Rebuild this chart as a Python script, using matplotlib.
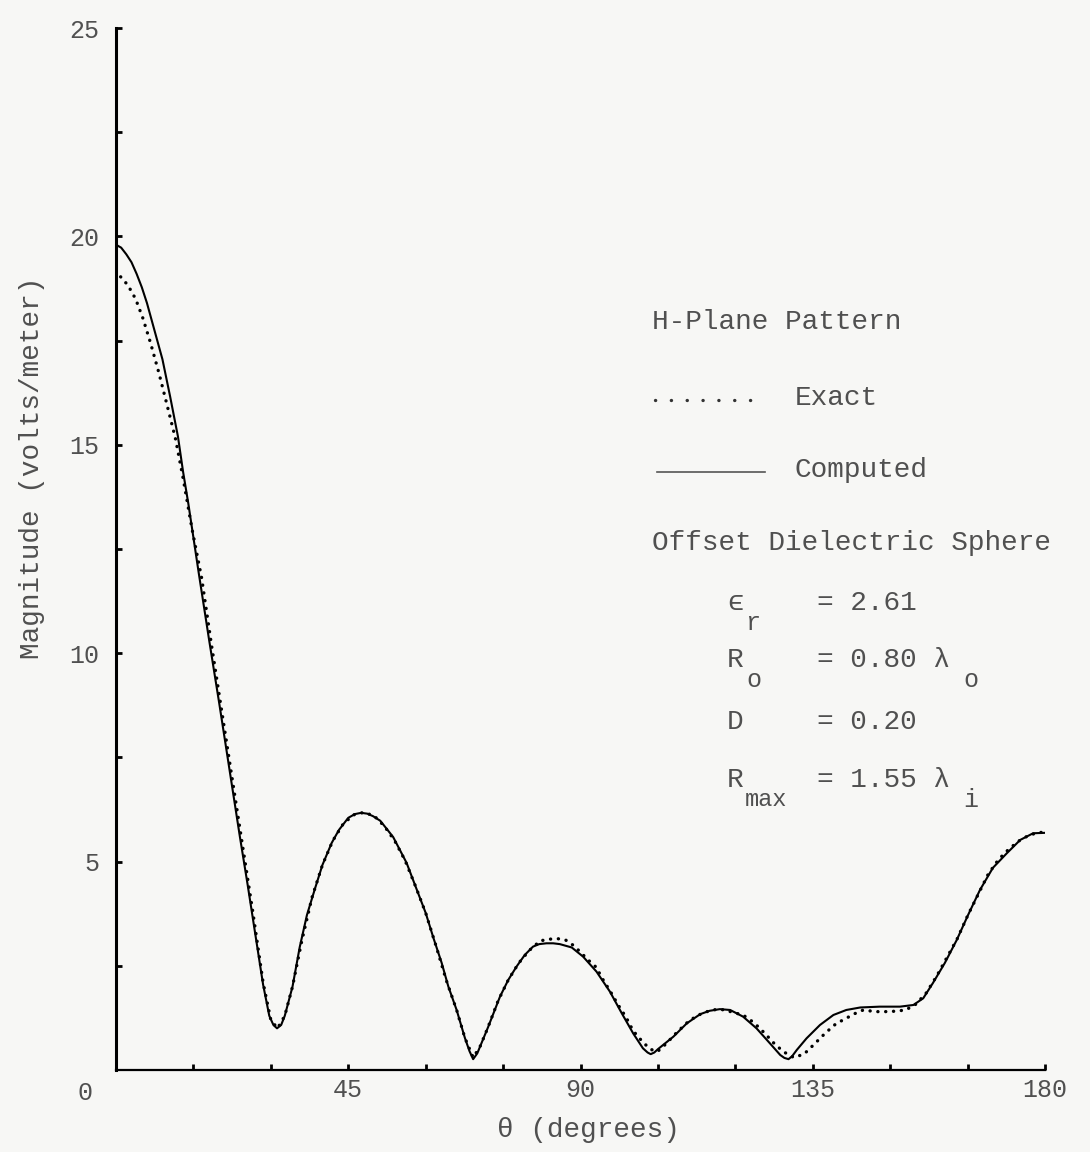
import numpy as np
import matplotlib
matplotlib.use("Agg")
import matplotlib.pyplot as plt

# computed H-plane pattern (solid line)
theta_comp = [0, 1, 2, 3, 4, 5, 6, 7, 8, 9, 10.5, 12, 13, 14, 16, 18, 20, 22, 23, 24,
              25.5, 27, 28.5, 29.7, 30.5, 31.2, 32, 32.7, 34.2, 35.6, 37, 38.6, 40,
              41.8, 43.2, 45, 46.3, 47.5, 48.7, 49.8, 51.2, 53.7, 56.3, 58.3, 60, 61.5,
              63.1, 64.4, 66, 67.6, 68.5, 69.2, 70, 70.5, 72.1, 74.4, 76, 77.6, 79.2,
              80.8, 82, 83.4, 84.7, 86, 88.3, 90.5, 93.1, 95.7, 98, 100.2, 102.1, 103,
              103.6, 104.3, 105, 108, 110.6, 113.2, 115, 117, 119, 121.5, 124.1, 126.7,
              128.7, 129.5, 130.3, 131, 131.9, 133.8, 136.4, 139, 141.5, 144.2, 148,
              151.9, 154.5, 156.4, 158.3, 160.6, 162.9, 165.1, 167.4, 169.9, 172.6,
              175.2, 177.7, 180]
mag_comp = [19.8, 19.73, 19.57, 19.38, 19.1, 18.78, 18.4, 17.95, 17.5, 17.05, 16.15,
            15.2, 14.35, 13.6, 11.95, 10.35, 8.8, 7.2, 6.4, 5.6, 4.45, 3.25, 2.05,
            1.3, 1.08, 1.0, 1.08, 1.3, 2.0, 2.95, 3.72, 4.37, 4.92, 5.45, 5.76, 6.05,
            6.14, 6.17, 6.15, 6.09, 5.98, 5.59, 4.97, 4.32, 3.77, 3.17, 2.57, 2.0,
            1.44, 0.77, 0.45, 0.26, 0.4, 0.55, 1.03, 1.76, 2.16, 2.48, 2.76, 2.96,
            3.02, 3.04, 3.04, 3.02, 2.94, 2.72, 2.36, 1.88, 1.36, 0.88, 0.52, 0.42,
            0.38, 0.42, 0.5, 0.8, 1.12, 1.34, 1.42, 1.46, 1.44, 1.28, 1.0, 0.64, 0.36,
            0.29, 0.26, 0.33, 0.48, 0.76, 1.08, 1.32, 1.44, 1.5, 1.52, 1.52, 1.56,
            1.72, 2.09, 2.57, 3.12, 3.72, 4.32, 4.85, 5.2, 5.52, 5.68, 5.69]

# exact solution (dotted)
theta_exact = [0.9, 2.3, 3.8, 5.2, 6.7, 8.3, 9.8, 11.5, 13, 14.7, 16.6, 18.5, 20.5,
               22.5, 24.5, 26.5, 28.5, 30, 31.3, 32.7, 34.2, 36, 38, 40, 42, 44, 46,
               48, 50, 52, 54, 56, 58, 60, 62, 64, 66, 67.6, 69.2, 70.5, 72, 74, 76,
               78, 80, 82.2, 84.1, 85.6, 87.1, 88.5, 89.9, 91.3, 93, 94.4, 95.9, 97.3,
               98.8, 100.2, 102, 103.5, 104.9, 106.5, 108.5, 110.5, 112.5, 114.5,
               116.5, 118, 119.6, 121.5, 123.1, 124.6, 126, 127.5, 129.3, 131.3,
               133.3, 135.3, 136.9, 138.3, 139.6, 141.2, 142.9, 144.8, 147.1, 149,
               151, 153, 155, 157, 159, 161, 163, 165, 167, 169, 171, 173, 175, 177,
               179, 180]
mag_exact = [19.03, 18.83, 18.5, 18.04, 17.44, 16.73, 16.0, 15.16, 14.2, 13.0, 11.8,
             10.2, 8.6, 7.0, 5.4, 3.8, 2.1, 1.2, 1.0, 1.3, 2.0, 3.1, 4.15, 4.92, 5.5,
             5.9, 6.12, 6.18, 6.1, 5.85, 5.5, 5.03, 4.42, 3.77, 2.98, 2.15, 1.44, 0.77,
             0.3, 0.55, 1.0, 1.65, 2.16, 2.56, 2.86, 3.1, 3.14, 3.15, 3.12, 3.0, 2.84,
             2.66, 2.47, 2.16, 1.86, 1.56, 1.27, 0.94, 0.68, 0.5, 0.44, 0.62, 0.88,
             1.12, 1.3, 1.4, 1.46, 1.44, 1.38, 1.32, 1.18, 1.02, 0.84, 0.64, 0.44,
             0.3, 0.38, 0.62, 0.82, 0.98, 1.12, 1.22, 1.34, 1.44, 1.4, 1.4, 1.41,
             1.44, 1.58, 1.85, 2.25, 2.7, 3.15, 3.7, 4.2, 4.7, 5.05, 5.3, 5.5, 5.64,
             5.7, 5.7]

xticks_major = [45, 90, 135, 180]
yticks_major = [5, 10, 15, 20, 25]

W, H = 1090, 1152
mono = ["Liberation Mono", "DejaVu Sans Mono"]
grey = "#505050"

fig = plt.figure(figsize=(W / 100, H / 100), dpi=100)
fig.patch.set_facecolor("#f7f7f5")
ax = fig.add_axes([116 / W, 1 - 1070 / H, (1045 - 116) / W, (1070 - 28) / H])
ax.set_facecolor("none")

ax.plot(theta_comp, mag_comp, color="black", lw=1.5, solid_joinstyle="round")
ax.plot(theta_exact, mag_exact, color="black", lw=2.4, linestyle=(0, (0.05, 2.3)),
        dash_capstyle="round")

ax.set_xlim(0, 180)
ax.set_ylim(0, 25)
for s in ["top", "right"]:
    ax.spines[s].set_visible(False)
ax.spines["left"].set_linewidth(2.2)
ax.spines["bottom"].set_linewidth(1.6)

ax.set_xticks(xticks_major)
ax.set_xticks(np.arange(15, 180, 15), minor=True)
ax.set_yticks(yticks_major)
ax.set_yticks(np.arange(2.5, 25, 2.5), minor=True)
ax.tick_params(which="both", direction="in", length=4, width=2, colors="black",
               labelcolor=grey)
ax.tick_params(axis="y", pad=12)
ax.tick_params(axis="x", pad=6)
for lab in ax.get_xticklabels() + ax.get_yticklabels():
    lab.set_family(mono)
    lab.set_fontsize(18)

# shared origin label
fig.text(85 / W, 1 - 1093 / H, "0", family=mono, fontsize=18, color=grey,
         ha="center", va="center")

fig.text(32 / W, 1 - 468 / H, "Magnitude (volts/meter)", family=mono, fontsize=20,
         color=grey, rotation=90, ha="center", va="center")
fig.text(588 / W, 1 - 1130 / H, "\u03b8 (degrees)", family=mono, fontsize=20,
         color=grey, ha="center", va="center")


def put(x, y, s, size=20, **kw):
    fig.text(x / W, 1 - y / H, s, family=mono, fontsize=size, color=grey,
             ha="left", va="center", **kw)


put(652, 322, "H-Plane Pattern")
fig.lines.append(plt.Line2D([655 / W, 765 / W], [1 - 400 / H, 1 - 400 / H],
                            transform=fig.transFigure, color="#333333", lw=2.4,
                            linestyle=(0, (0.05, 4.7)), dash_capstyle="round"))
put(795, 398, "Exact")
fig.lines.append(plt.Line2D([657 / W, 765 / W], [1 - 472 / H, 1 - 472 / H],
                            transform=fig.transFigure, color="#555555", lw=1.2))
put(795, 470, "Computed")
put(652, 543, "Offset Dielectric Sphere")

put(727, 603, "\u03f5")
put(745, 623, "r", size=18)
put(817, 603, "= 2.61")
put(727, 660, "R")
put(746, 680, "o", size=18)
put(817, 660, "= 0.80 \u03bb")
put(963, 680, "o", size=18)
put(727, 722, "D")
put(817, 722, "= 0.20")
put(727, 780, "R")
put(745, 800, "max", size=17)
put(817, 780, "= 1.55 \u03bb")
put(963, 800, "i", size=18)

fig.savefig("out.png", dpi=100, facecolor=fig.get_facecolor())
